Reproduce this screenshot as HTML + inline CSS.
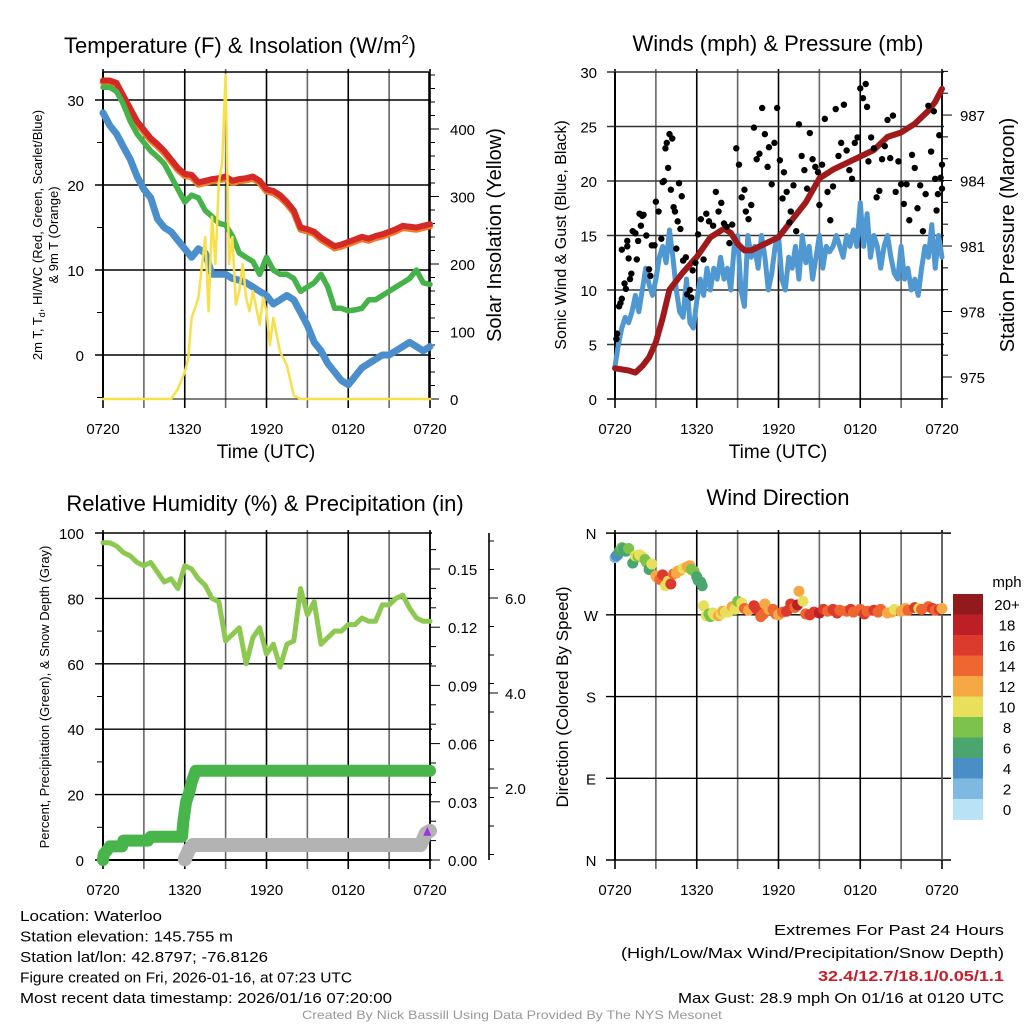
<!DOCTYPE html>
<html><head><meta charset="utf-8">
<style>
html,body{margin:0;padding:0;background:#fff;}
svg{display:block;font-family:"Liberation Sans",sans-serif;}
</style></head>
<body>
<svg id="chart" width="1024" height="1024" viewBox="0 0 1024 1024" xmlns="http://www.w3.org/2000/svg">
<rect width="1024" height="1024" fill="#fff"/>
<g id="root"></g>
</svg>
<script>
// ---------- DATA ----------
const timeLabels = ["0720","1320","1920","0120","0720"];
const halfHours = [0,0.5,1,1.5,2,2.5,3,3.5,4,4.5,5,5.5,6,6.5,7,7.5,8,8.5,9,9.5,10,10.5,11,11.5,12,12.5,13,13.5,14,14.5,15,15.5,16,16.5,17,17.5,18,18.5,19,19.5,20,20.5,21,21.5,22,22.5,23,23.5,24];
const quarterHours = Array.from({length:97},(_,i)=>i*0.25);
const tempRed = [32.3,32.3,32,30.5,29,27.5,26.5,25.5,24.8,24,23,22,21.3,21.2,20.3,20.5,20.7,20.8,21,20.5,20.7,20.8,21,20.5,19.5,19.3,18.8,18,17,15,14.8,14.5,13.8,13.3,12.8,13,13.3,13.6,13.9,13.7,14,14.2,14.5,14.8,15.2,15.1,15,15.2,15.4];
const tempGreen = [31.5,31.5,31,29.5,27.5,26,25,24,23.3,22.5,21,19.5,18,18.8,18.5,17,16.3,15.5,15.3,14,12,11.5,11,9.5,11.5,10,9.5,9.5,9,7.5,8,8.5,9.5,8,5.5,5.5,5.2,5.3,5.5,6.5,6.5,7,7.5,8,8.5,9,10,8.5,8.3];
const tempBlue = [28.5,27,26,24.5,23,21,19.5,18.5,16,15,14.5,13.5,12.5,11.5,12.5,12,9.5,9.5,9.5,9,8.8,8.5,8,7.5,7,6,6.5,7,6.5,5,3.5,1.5,0.5,-1,-2,-3,-3.5,-2.5,-1.5,-1,-0.5,0,0,0.5,1,1.5,1,0.5,1];
const solarHours = [0,5,5.5,6,6.25,6.5,7,7.5,7.75,8,8.25,8.5,8.75,9,9.25,9.5,9.75,10,10.25,10.5,10.75,11,11.5,11.75,12,12.25,12.5,13,13.5,14,14.5,24];
const solarVals = [0,0,15,40,60,120,150,240,130,270,200,320,350,480,200,240,140,160,200,150,130,160,110,150,130,80,120,70,50,5,0,0];
const pressHours = [0,1,1.5,2,2.5,3,3.5,4,4.5,5,6,7,8,8.5,9,9.5,10,11,12,13,14,15,16,17,18,19,20,21,22,23,23.5,24];
const pressVals = [975.4,975.3,975.2,975.5,975.9,976.6,977.7,979,979.4,979.8,980.5,981.4,981.8,981.6,981.1,980.8,980.8,981.1,981.4,982.2,983,984.1,984.5,984.8,985.1,985.4,986,986.2,986.6,987.2,987.6,988.2];
const windSpeed = [3,5,6.5,7.5, 7,8,9.5,8, 10,12,10.5,9.5, 11,13,14,12.5, 15.5,13,10,8, 7.5,11,7,6.5, 9,11,9.5,12, 10,12,11,13, 11,12,10,14, 15,10,8.5,15, 13,14,12,15, 13,10,11.5,14, 15,11,10,13, 12,14,11,15, 12.5,14,11,13, 15,12,14,13.5, 14,15,14,13, 15,14,15.5,14, 18,14,17,13, 15,14,12,14, 15,13,11.5,11, 14,11,12,10, 11,9.5,12,14, 13,16,12,15, 13];
const gustHours = [0.1,0.15,0.3,0.4,0.5,0.5,0.7,0.8,0.9,0.9,1,1.1,1.2,1.3,1.5,1.6,1.7,1.8,1.9,2,2.1,2.3,2.5,2.6,2.7,2.9,3,3.2,3.4,3.5,3.6,3.7,3.8,3.9,4,4.1,4.2,4.3,4.4,4.5,4.6,4.7,4.8,4.9,5,5.2,5.3,5.5,5.6,5.7,5.9,6.1,6.3,6.5,6.7,6.9,7.2,7.4,7.6,7.8,8,8.2,8.4,8.6,8.9,9.1,9.3,9.5,9.6,9.8,10,10.2,10.4,10.6,10.8,11,11.2,11.3,11.5,11.7,11.9,12.1,12.3,12.4,12.6,12.8,12.9,13.1,13.3,13.5,13.7,13.9,14.1,14.3,14.5,14.7,14.9,15,15.2,15.4,15.6,15.8,16,16.2,16.4,16.6,16.8,17,17.2,17.4,17.6,17.8,18,18.2,18.4,18.5,18.6,18.8,19,19.2,19.4,19.6,19.8,20,20.2,20.4,20.6,20.8,21,21.2,21.4,21.6,21.8,22,22.2,22.4,22.6,22.8,23,23.2,23.4,23.5,23.6,23.7,23.8,23.9,24,24];
const gustVals = [5.5,6,8.5,8.8,9.2,13.7,10.6,10.1,14,14.5,12.9,11,11.5,15.4,15.2,12.8,14.5,17,15.9,16.8,16.9,15,11.9,11.3,14.1,14.1,18.1,17.2,14.7,19.9,20,23,23.5,21.2,24.3,19.2,23.9,17.6,17.2,13.8,16.3,19.8,15.6,18.6,12.7,13,9.6,10,9.3,11.8,12.5,15.1,16.5,12.8,17,16.3,15.9,19,17.2,18,16.1,15.8,14.3,16,23,21.5,18.5,19.2,17.2,16.5,17.8,24.9,22,22.5,26.7,24.3,21.3,23.1,19.7,23.5,26.7,21.9,18.4,20.8,19,16.2,17.2,19.6,15.4,25.2,22.3,21,19.3,24.4,22,21.3,20.8,17.8,21.5,25.7,19,16.4,19.5,26.6,22.3,23.5,27,22.8,21,20.2,23.5,24,28.5,27.6,28.9,26.8,21.8,24,23,18.5,19.1,22,23.2,25.6,22.1,26,19,21.8,19.7,17.9,19.7,16.4,22.4,21.2,17.5,19.6,15.4,18.8,26.9,22.7,26.4,20.2,17.3,18.8,24.2,20.3,19.3,21.5];
const rhVals = [97,97,96,94,93,91,90,91,88,85,86,83,90,89,86,84,80,79,67,69,71,60,68,71,63,66,59,66,67,83,75,79,66,68,70,70,72,72,74,73,73,78,78,80,81,77,74,73,73];
const precipHours = [0,0.05,0.3,0.5,1.4,1.5,3.3,3.5,5.8,5.9,6.1,6.3,6.5,6.8,24];
const precipVals = [0,0.003,0.005,0.007,0.007,0.01,0.01,0.012,0.012,0.02,0.03,0.034,0.04,0.046,0.046];
const snowHours = [6,6.3,6.6,23.3,23.7,24];
const snowVals = [0.5,0.7,0.8,0.8,1.05,1.1];
const dirHours = [0,0.1,0.2,0.3,0.4,0.5,0.6,0.7,0.8,1.0,1.3,1.5,1.7,1.8,2.0,2.2,2.3,2.5,2.7,3.0,3.1,3.3,3.5,3.7,3.9,4.1,4.3,4.5,4.6,4.8,5,5.2,5.3,5.5,5.6,5.8,6.0,6.1,6.3,6.4,6.5,6.7,6.9,7,7.2,7.3,7.6,7.8,7.9,8.1,8.3,8.6,8.8,9,9.3,9.5,9.8,10.2,10.4,10.7,10.9,11,11.3,11.6,11.8,12,12.3,12.6,12.9,13.2,13.4,13.5,13.8,14,14.3,14.6,15,15.3,15.6,16,16.3,16.5,17,17.3,17.5,18,18.3,18.5,19,19.3,19.5,20,20.3,20.5,21,21.3,21.5,22,22.3,22.5,23,23.3,23.5,23.8,24];
const dirVals = [333,335,336,340,341,344,343,342,340,343,327,335,334,336,334,331,328,320,326,313,311,309,314,302,307,304,315,316,318,319,321,322,323,324,320,318,312,308,306,302,280,269,271,268,272,270,269,271,274,273,273,279,276,285,283,277,275,280,276,268,271,282,276,276,271,270,273,274,282,278,281,296,285,271,270,273,272,276,274,276,272,275,274,276,273,276,271,274,275,273,276,272,273,276,274,277,275,278,277,276,279,277,275,276,277];
const dirSpeeds = [3,4,5,6,7,8,7,7,6,8,6,10,9,11,10,9,9,7,10,12,13,14,16,10,11,17,14,12,13,12,10,11,12,12,9,8,7,6,6,7,10,10,9,9,10,10,12,11,12,11,10,12,11,9,10,14,13,16,17,14,15,12,12,15,14,13,14,16,17,15,18,12,10,15,16,17,18,17,15,16,17,14,15,16,15,15,16,14,16,15,14,12,13,10,12,12,14,16,10,14,15,16,15,17,12];
const colorbarLabels = ["20+","18","16","14","12","10","8","6","4","2","0"];
const colorbarColors = ["#921a1d","#bd1f26","#dc3a2c","#ef6630","#f5a844","#e8e05a","#7dc24a","#4aa56f","#4a8ec6","#7fb8e0","#b8e2f5"];

// ---------- HELPERS ----------
const NS="http://www.w3.org/2000/svg";
const root=document.getElementById('root');
function mk(tag,attrs,parent){const e=document.createElementNS(NS,tag);for(const k in attrs)e.setAttribute(k,attrs[k]);(parent||root).appendChild(e);return e;}
function txt(s,x,y,size,anchor,parent,extra){const t=mk('text',Object.assign({x:x,y:y,'font-size':size,'text-anchor':anchor||'start',fill:'#000'},extra||{}),parent);t.textContent=s;return t;}
const xL=h=>103+h*13.625, xR=h=>615+h*13.625;

function frame(x0,x1,y0,y1,xs,name){
  const g=mk('g',{});
  
  
  for(let h=0;h<=24;h+=3){const x=xs(h);
    const ln=mk('line',{x1:x,x2:x,y1:y0-3,y2:y1+9,stroke:(h%6===0)?'#000':'#666','stroke-width':1.6},g);
    
    }
  for(let i=0;i<timeLabels.length;i++){const t=txt(timeLabels[i],xs(i*6),y1+35,15,'middle',g);
    
    }
  return g;
}
function hline(x0,x1,y,g,col){mk('line',{x1:x0-8,x2:x1+2,y1:y,y2:y,stroke:col||'#000','stroke-width':1.4},g);}
function path(pts,attrs){return mk('path',Object.assign({d:'M'+pts.map(p=>p[0].toFixed(1)+','+p[1].toFixed(1)).join('L'),fill:'none','stroke-linejoin':'round','stroke-linecap':'round'},attrs));}
function stepPts(hs,vs,xf,yf){const p=[];for(let i=0;i<hs.length;i++){p.push([xf(hs[i]),yf(vs[i])]);}return p;}

// ---------- PANEL 1: Temperature ----------
{
const yT=v=>355-v*8.5, yS=v=>399-v*0.675;
const g=frame(103,429,72,399,xL,'temperature');
[0,10,20,30].forEach(v=>{hline(103,429,yT(v),g);const t=txt(String(v),84,yT(v)+6,15,'end',g);});
for(let v=-5;v<=33;v+=5){if(v%10)mk('line',{x1:97,x2:103,y1:yT(v),y2:yT(v),stroke:'#000','stroke-width':1},g);}
for(let v=0;v<=480;v+=20){mk('line',{x1:429,x2:v%100?435:439,y1:yS(v),y2:yS(v),stroke:'#000','stroke-width':1},g);}
[0,100,200,300,400].forEach(v=>{const t=txt(String(v),450,yS(v)+6,15,'start',g);});
mk('line',{x1:103,x2:429,y1:72,y2:72,stroke:'#000','stroke-width':1.6},g);
mk('line',{x1:103,x2:103,y1:72,y2:399,stroke:'#000','stroke-width':2},g);
mk('line',{x1:429,x2:429,y1:72,y2:399,stroke:'#000','stroke-width':1.6},g);
mk('line',{x1:103,x2:429,y1:399,y2:399,stroke:'#000','stroke-width':1},g);
let e;
e=path(stepPts(halfHours,tempRed,xL,v=>yT(v)+2),{stroke:'#f07b2a','stroke-width':6.5});


e=path(stepPts(halfHours,tempRed,xL,yT),{stroke:'#d42a25','stroke-width':6});


e=path(stepPts(halfHours,tempGreen,xL,yT),{stroke:'#46b24a','stroke-width':5.5});


e=path(stepPts(halfHours,tempBlue,xL,yT),{stroke:'#4a8fcb','stroke-width':7});


e=path(stepPts(solarHours,solarVals,xL,yS),{stroke:'#f7e04a','stroke-width':2.5});


e=txt('Temperature (F) & Insolation (W/m',64,53,22,'start');


const sup=mk('tspan',{dy:-9,'font-size':13});sup.textContent='2';e.appendChild(sup);
const cl=mk('tspan',{dy:9});cl.textContent=')';e.appendChild(cl);
e=txt('Time (UTC)',266,458,19,'middle');


e=mk('text',{transform:'translate(42,235) rotate(-90)','font-size':13,'text-anchor':'middle'});
e.textContent='2m T, T';
const sub=mk('tspan',{'font-size':9,dy:3},e);sub.textContent='d';
const rest=mk('tspan',{dy:-3},e);rest.textContent=', HI/WC (Red, Green, Scarlet/Blue)';


e=mk('text',{transform:'translate(58,235) rotate(-90)','font-size':13,'text-anchor':'middle'});e.textContent='& 9m T (Orange)';


e=mk('text',{transform:'translate(501,235) rotate(-90)','font-size':20,'text-anchor':'middle'});e.textContent='Solar Insolation (Yellow)';


}

// ---------- PANEL 2: Winds ----------
{
const yW=v=>399-v*10.9, yP=p=>377-(p-975)*21.83;
const g=frame(615,942,72,399,xR,'winds');
[0,5,10,15,20,25,30].forEach(v=>{hline(615,942,yW(v),g,v===0?'#000':'#333');const t=txt(String(v),597,yW(v)+6,15,'end',g);});
for(let p=974;p<=989;p++){mk('line',{x1:942,x2:(p%3===0)?952:948,y1:yP(p),y2:yP(p),stroke:'#000','stroke-width':1},g);}
[975,978,981,984,987].forEach(p=>{const t=txt(String(p),960,yP(p)+6,15,'start',g);});
mk('line',{x1:615,x2:615,y1:72,y2:399,stroke:'#000','stroke-width':2},g);
mk('line',{x1:942,x2:942,y1:72,y2:399,stroke:'#000','stroke-width':1.6},g);
let e=path(stepPts(quarterHours,windSpeed,xR,yW),{stroke:'#4f98d2','stroke-width':5});


e=path(stepPts(pressHours,pressVals,xR,yP),{stroke:'#a01a1c','stroke-width':6});


const gg=mk('g',{});


for(let i=0;i<gustHours.length;i++){const c=mk('circle',{cx:xR(gustHours[i]),cy:yW(gustVals[i]),r:3.2,fill:'#000'},gg);
  
  }
e=txt('Winds (mph) & Pressure (mb)',778,51,22,'middle');


e=txt('Time (UTC)',778,458,19,'middle');


e=mk('text',{transform:'translate(566,235) rotate(-90)','font-size':16,'text-anchor':'middle'});e.textContent='Sonic Wind & Gust (Blue, Black)';


e=mk('text',{transform:'translate(1014,235) rotate(-90)','font-size':20,'text-anchor':'middle'});e.textContent='Station Pressure (Maroon)';


}

// ---------- PANEL 3: RH & Precip ----------
{
const yH=v=>860-v*3.27, yPr=v=>860-v*1940, ySn=v=>883-v*47.5;
const g=frame(103,430,533,860,xL,'humidity');
[0,20,40,60,80,100].forEach(v=>{hline(103,430,yH(v),g);const t=txt(String(v),84,yH(v)+6,15,'end',g);});
for(let v=10;v<100;v+=20)mk('line',{x1:97,x2:103,y1:yH(v),y2:yH(v),stroke:'#000','stroke-width':1},g);
for(let v=0;v<=0.165;v+=0.01){const mj=Math.abs((v*100)%3)<0.01||Math.abs((v*100)%3-3)<0.01;mk('line',{x1:430,x2:mj?440:436,y1:yPr(v),y2:yPr(v),stroke:'#000','stroke-width':1},g);}
["0.00","0.03","0.06","0.09","0.12","0.15"].forEach(s=>{const t=txt(s,448,yPr(parseFloat(s))+6,15,'start',g);});
mk('line',{x1:489,x2:489,y1:533,y2:860,stroke:'#000','stroke-width':1.6},g);
for(let v=0.6;v<=7.8;v+=0.6){const y=ySn(v);if(y>=535&&y<=858)mk('line',{x1:489,x2:494,y1:y,y2:y,stroke:'#000','stroke-width':1},g);}
[2,4,6].forEach(v=>{mk('line',{x1:489,x2:498,y1:ySn(v),y2:ySn(v),stroke:'#000','stroke-width':1},g);const t=txt(v.toFixed(1),505,ySn(v)+6,15,'start',g);});
mk('line',{x1:103,x2:103,y1:533,y2:860,stroke:'#000','stroke-width':2},g);
mk('line',{x1:430,x2:430,y1:533,y2:860,stroke:'#000','stroke-width':1.6},g);
mk('line',{x1:103,x2:430,y1:860,y2:860,stroke:'#000','stroke-width':2},g);
let e=path(stepPts(halfHours,rhVals,xL,yH),{stroke:'#8dc850','stroke-width':5});


e=path(stepPts(snowHours,snowVals,xL,ySn),{stroke:'#b3b3b3','stroke-width':14});


e=path(stepPts(precipHours,precipVals,xL,yPr),{stroke:'#47b54a','stroke-width':12});


e=mk('path',{d:`M${xL(23.8)-4},${ySn(1.1)+5}L${xL(23.8)},${ySn(1.1)-4}L${xL(23.8)+4},${ySn(1.1)+5}Z`,fill:'#a030e0'});


e=txt('Relative Humidity (%) & Precipitation (in)',265,511,22,'middle');


e=mk('text',{transform:'translate(49,697) rotate(-90)','font-size':13,'text-anchor':'middle'});e.textContent='Percent, Precipitation (Green), & Snow Depth (Gray)';


}

// ---------- PANEL 4: Wind direction ----------
{
const yD=d=>860-d*0.908;
const g=frame(615,942,533,860,xR,'direction');
const dl=["N","E","S","W","N"];
[0,90,180,270,360].forEach((d,i)=>{mk('line',{x1:606,x2:951,y1:yD(d),y2:yD(d),stroke:'#000','stroke-width':1.4},g);const t=txt(dl[i],591,yD(d)+6,15,'middle',g);});
mk('line',{x1:615,x2:615,y1:533,y2:860,stroke:'#000','stroke-width':2},g);
mk('line',{x1:942,x2:942,y1:533,y2:860,stroke:'#666','stroke-width':1.6},g);
const pg=mk('g',{});


for(let i=0;i<dirHours.length;i++){const idx=Math.min(10,Math.floor(dirSpeeds[i]/2));
  const c=mk('circle',{cx:xR(dirHours[i]),cy:yD(dirVals[i]),r:5.5,fill:colorbarColors[10-idx]},pg);
  
  }
const cb=mk('g',{});


for(let i=0;i<colorbarColors.length;i++){const y=594+i*20.5;
  mk('rect',{x:953,y:y,width:30,height:20.9,fill:colorbarColors[i]},cb);
  const t=txt(colorbarLabels[i],1007,y+16,15,'middle',cb);
  
  }
let e=txt('mph',1007,587,15,'middle');


e=txt('Wind Direction',778,505,22,'middle');


e=mk('text',{transform:'translate(568,697) rotate(-90)','font-size':17,'text-anchor':'middle'});e.textContent='Direction (Colored By Speed)';


}

// ---------- FOOTER ----------
{
const left=[["Location: Waterloo",142],["Station elevation: 145.755 m",213],["Station lat/lon: 42.8797; -76.8126",248],["Figure created on Fri, 2026-01-16, at 07:23 UTC",332],["Most recent data timestamp: 2026/01/16 07:20:00",372]];
left.forEach((l,i)=>{const t=txt(l[0],20,921+i*20.5,15,'start',null,{textLength:l[1],lengthAdjust:'spacingAndGlyphs'});
  
  });
let e=txt('Extremes For Past 24 Hours',1004,935,15,'end',null,{textLength:230,lengthAdjust:'spacingAndGlyphs'});


e=txt('(High/Low/Max Wind/Precipitation/Snow Depth)',1004,958,15,'end',null,{textLength:383,lengthAdjust:'spacingAndGlyphs'});


e=txt('32.4/12.7/18.1/0.05/1.1',1004,981,15,'end',null,{fill:'#c8202a','font-weight':'bold',textLength:186,lengthAdjust:'spacingAndGlyphs'});


e=txt('Max Gust: 28.9 mph On 01/16 at 0120 UTC',1004,1003,15,'end',null,{textLength:326,lengthAdjust:'spacingAndGlyphs'});


e=txt('Created By Nick Bassill Using Data Provided By The NYS Mesonet',512,1019,12,'middle',null,{fill:'#999',textLength:420,lengthAdjust:'spacingAndGlyphs'});


}
</script>
</body></html>
